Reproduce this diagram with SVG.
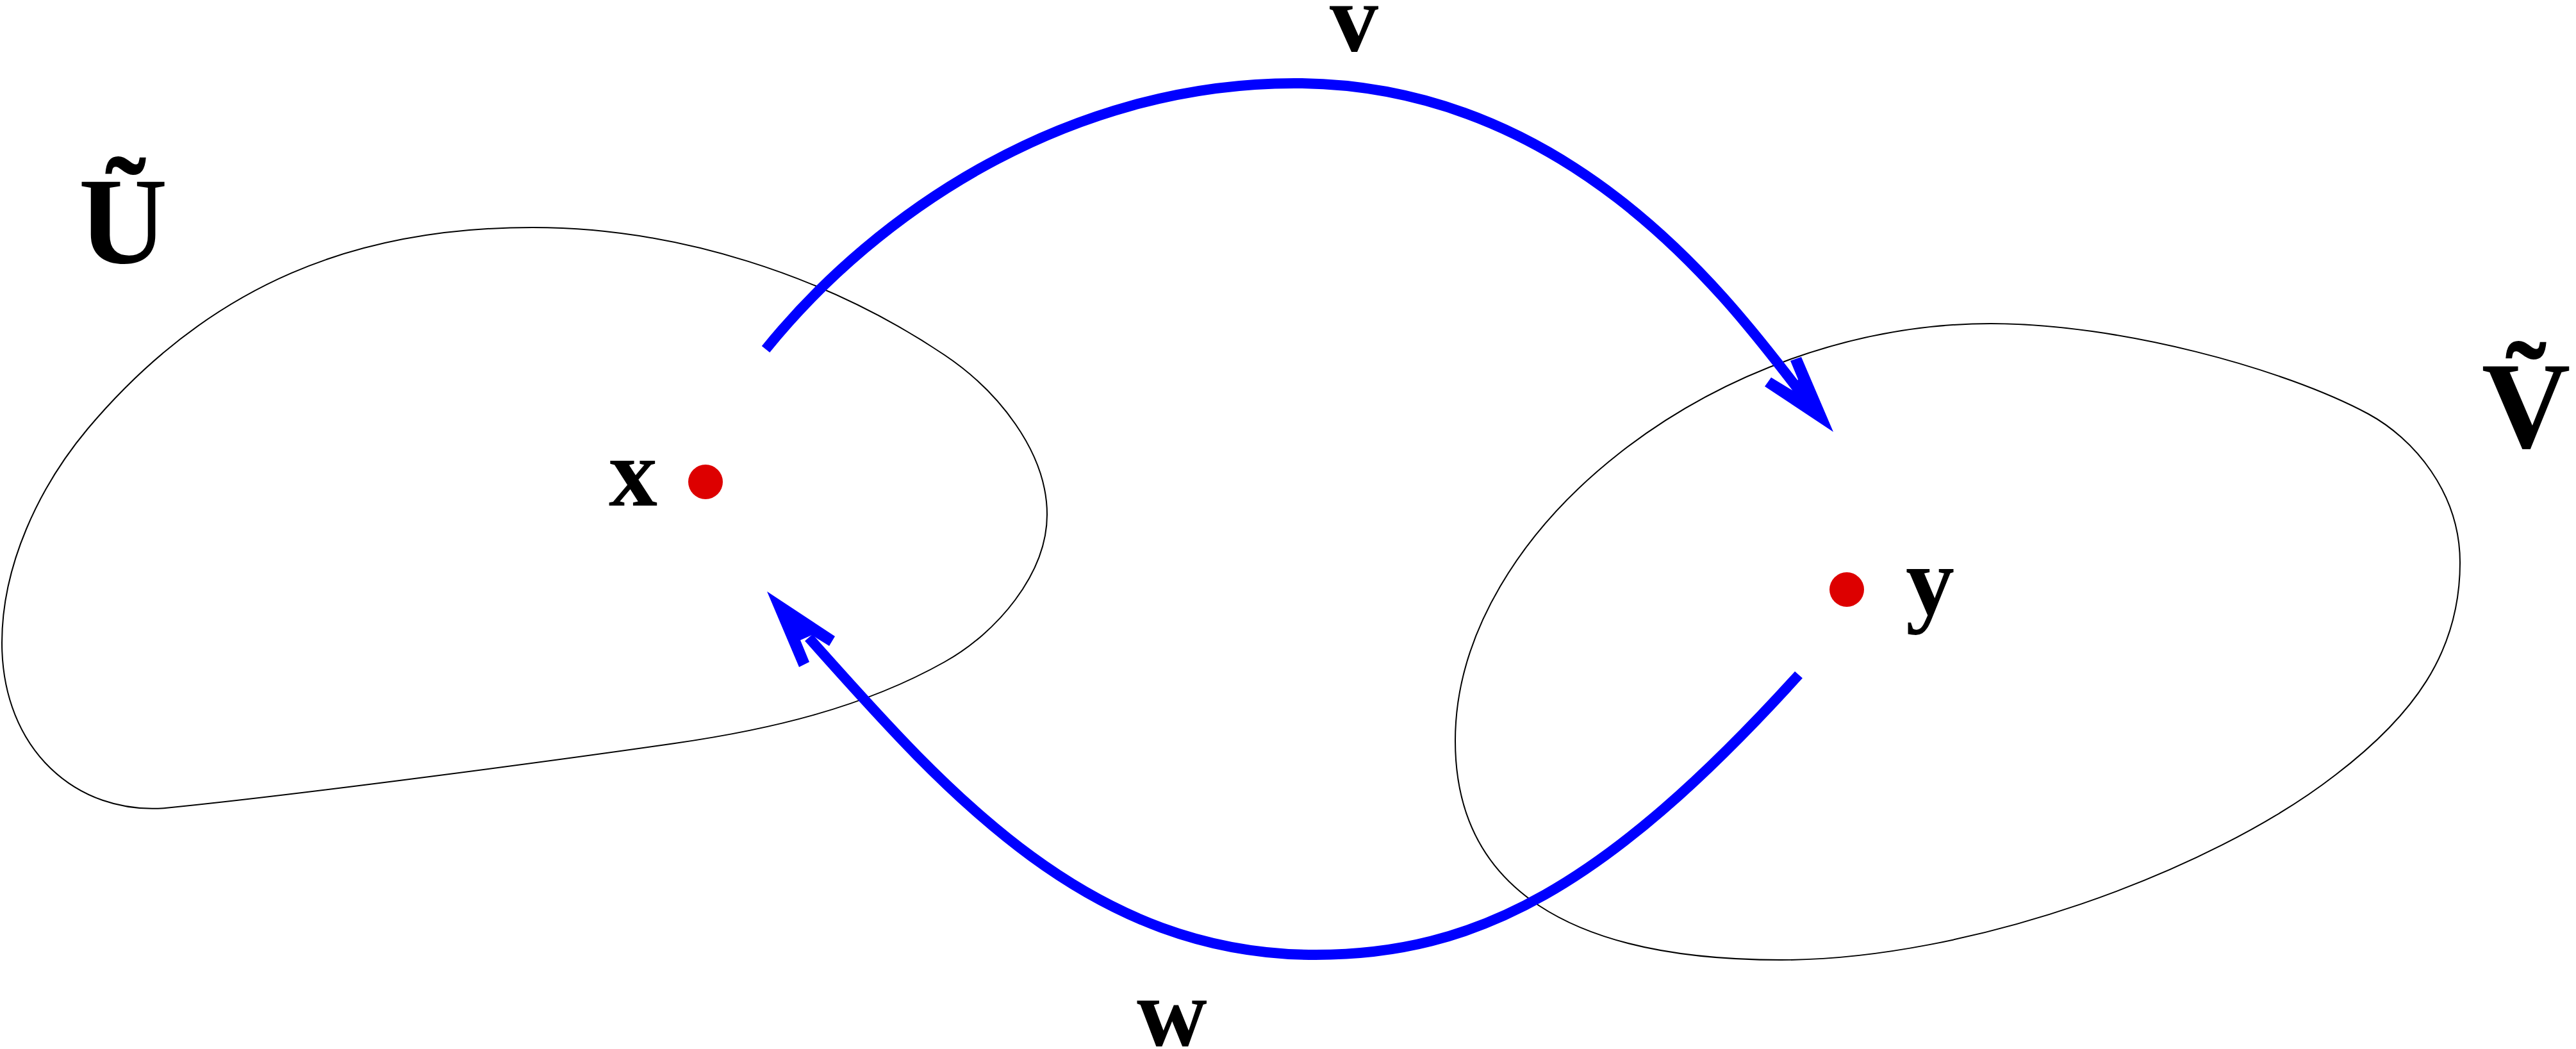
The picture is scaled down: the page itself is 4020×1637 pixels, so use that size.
<svg xmlns="http://www.w3.org/2000/svg" width="4020" height="1637" viewBox="0 0 4020 1637">
<style>
.blob{fill:none;stroke:#000;stroke-width:2}
.lbl{font-family:"Liberation Serif","DejaVu Serif",serif;font-weight:bold;fill:#000;text-anchor:middle}
.cap{font-size:192px}
.low{font-size:152px}
.dot{fill:#dd0000}
.arc{fill:none;stroke:#0000ff;stroke-width:16}
.head{fill:#0000ff;stroke:none}
</style>
<rect width="4020" height="1637" fill="#fff"/>
<g id="U">
<path class="blob" d="M831,355 C1055,355 1288,429 1474,554 C1556,609 1634,704 1634,803 C1634,896 1555,988 1474,1033 C1346,1105 1199,1139 1053,1160 C880,1185 470,1240 258,1261 C120,1272 3,1170 3,1003 C3,883 60,761 137,669 C330,440 560,355 831,355 Z"/>
<text class="lbl cap" x="192" y="410">Ũ</text>
</g>
<g id="V">
<path class="blob" d="M3107,505 C3307,505 3564,575 3696,646 C3766,684 3839,768 3839,878 C3839,1020 3764,1118 3645,1209 C3448,1362 3070,1498 2780,1498 C2450,1498 2271,1386 2271,1156 C2271,826 2677,505 3107,505 Z"/>
<text class="lbl cap" x="3942" y="698">Ṽ</text>
</g>
<g id="x">
<circle class="dot" cx="1101" cy="752" r="27"/>
<text class="lbl low" x="988" y="789">x</text>
</g>
<g id="y">
<circle class="dot" cx="2882" cy="920" r="27"/>
<text class="lbl low" x="3012" y="958">y</text>
</g>
<g id="connectors">
<g id="edge-v">
<path class="arc" d="M1195,545 C1371,327 1670,130 2020,130 C2450,130 2700,470 2808,610"/>
<polygon class="head" points="2861,674 2811,557 2794,563 2806,592 2797,609 2764,589 2754,603"/>
<text class="lbl low" x="2113" y="80">v</text>
</g>
<g id="edge-w">
<path class="arc" d="M2807,1053 C2505,1386 2303,1490 2053,1490 C1700,1490 1480,1240 1262,995"/>
<polygon class="head" points="1197,923 1303,993 1294,1008 1267,991 1249,999 1263,1033 1247,1041"/>
<text class="lbl low" x="1829" y="1632">w</text>
</g>
</g>
</svg>
